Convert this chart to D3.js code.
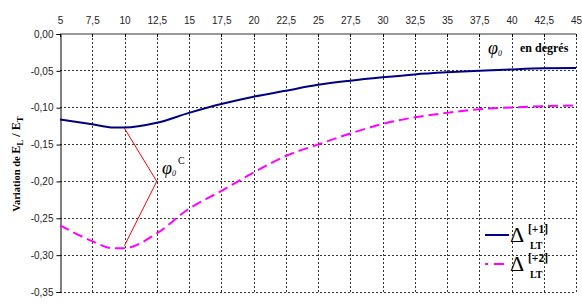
<!DOCTYPE html>
<html><head><meta charset="utf-8">
<script src="https://cdn.jsdelivr.net/npm/d3@7"></script>
<style>
html,body{margin:0;padding:0;background:#fff;}
svg{display:block;}
</style></head>
<body>
<script>
const angles = [5, 7.5, 9, 10, 12.5, 15, 17.5, 20, 22.5, 25, 27.5, 30, 32.5, 35, 37.5, 40, 42.5, 45];
const deltaLT1 = [-0.116, -0.1225, -0.1268, -0.127, -0.1205, -0.107, -0.095, -0.085, -0.077, -0.069, -0.0634, -0.0588, -0.0548, -0.052, -0.0498, -0.048, -0.0466, -0.0462];
const deltaLT2 = [-0.2595, -0.281, -0.2905, -0.2905, -0.2705, -0.237, -0.213, -0.188, -0.1655, -0.15, -0.135, -0.122, -0.113, -0.107, -0.102, -0.0997, -0.098, -0.097];
const criticalAngle = [[10, -0.128], [12.5, -0.20], [10, -0.287]];
const xTicks = [5, 7.5, 10, 12.5, 15, 17.5, 20, 22.5, 25, 27.5, 30, 32.5, 35, 37.5, 40, 42.5, 45];
const yTicks = [0, -0.05, -0.10, -0.15, -0.20, -0.25, -0.30, -0.35];

const W = 582, H = 307;
const L = 60, R = 576, T = 34, B = 292;
const svg = d3.select("body").append("svg").attr("width", W).attr("height", H);
const x = d3.scaleLinear().domain([5, 45]).range([L, R]);
const y = d3.scaleLinear().domain([-0.35, 0]).range([B, T]);
const loc = d3.formatLocale({decimal: ",", thousands: " ", grouping: [3], currency: ["", ""], minus: "-"});
const fy = loc.format(".2f");
const fx = v => String(v).replace(".", ",");

// grid
const grid = svg.append("g");
yTicks.filter(v => v < 0).forEach(v => {
  grid.append("line").attr("x1", L).attr("x2", R).attr("y1", y(v)).attr("y2", y(v))
    .attr("stroke", "#333").attr("stroke-width", 1).attr("stroke-dasharray", "2,2").attr("shape-rendering", "crispEdges");
});
xTicks.filter(v => v > 5).forEach(v => {
  grid.append("line").attr("x1", Math.round(x(v)) + 0.5).attr("x2", Math.round(x(v)) + 0.5).attr("y1", T).attr("y2", B)
    .attr("stroke", "#333").attr("stroke-width", 1).attr("stroke-dasharray", "2,2").attr("shape-rendering", "crispEdges");
});

// top axis (at y = 0)
const xAxis = d3.axisTop(x).tickValues(xTicks).tickFormat(fx).tickSize(0).tickPadding(0);
const gx = svg.append("g").attr("transform", `translate(0,${T})`).call(xAxis);
gx.select(".domain").remove();
gx.selectAll("text").attr("y", -10).attr("font-family", "Liberation Sans, Arial, sans-serif").attr("font-size", 10).attr("fill", "#222");
svg.append("line").attr("x1", L).attr("x2", R).attr("y1", T).attr("y2", T).attr("stroke", "#999").attr("stroke-width", 2);
xTicks.forEach(v => {
  svg.append("line").attr("x1", Math.round(x(v)) + 0.5).attr("x2", Math.round(x(v)) + 0.5).attr("y1", T).attr("y2", T + 3)
    .attr("stroke", "#000").attr("stroke-width", 1);
});

// left axis
const yAxis = d3.axisLeft(y).tickValues(yTicks).tickFormat(fy).tickSize(4).tickPadding(3);
const gy = svg.append("g").attr("transform", `translate(${L + 0.5},0)`).call(yAxis);
gy.select(".domain").attr("stroke", "#000");
gy.selectAll(".tick line").attr("stroke", "#000");
gy.selectAll("text").attr("font-family", "Liberation Sans, Arial, sans-serif").attr("font-size", 10).attr("fill", "#222");

// series
const line = d3.line().x((d, i) => x(angles[i])).y(d => y(d)).curve(d3.curveMonotoneX);
svg.append("path").datum(deltaLT2).attr("d", line).attr("fill", "none")
  .attr("stroke", "#ff00ff").attr("stroke-width", 2).attr("stroke-dasharray", "10,5");
svg.append("path").datum(deltaLT1).attr("d", line).attr("fill", "none")
  .attr("stroke", "#000080").attr("stroke-width", 2);

// critical angle annotation
svg.append("path").datum(criticalAngle)
  .attr("d", d3.line().x(d => x(d[0])).y(d => y(d[1])))
  .attr("fill", "none").attr("stroke", "#ff0000").attr("stroke-width", 1);

const serif = "Liberation Serif, Times New Roman, serif";
const phiC = svg.append("text").attr("font-family", serif).attr("x", 162).attr("y", 174);
phiC.append("tspan").attr("font-style", "italic").attr("font-size", 18).text("φ");
phiC.append("tspan").attr("font-style", "italic").attr("font-size", 8).attr("dy", 2).text("0");
phiC.append("tspan").attr("font-size", 10).attr("dy", -12).attr("dx", 2).text("C");

const phiT = svg.append("text").attr("font-family", serif).attr("x", 488).attr("y", 54);
phiT.append("tspan").attr("font-style", "italic").attr("font-size", 18).text("φ");
phiT.append("tspan").attr("font-style", "italic").attr("font-size", 8).attr("dy", 2).text("0");
svg.append("text").attr("font-family", serif).attr("font-weight", "bold").attr("font-size", 12)
  .attr("x", 520).attr("y", 52).text("en degrés");

// y title
const yt = svg.append("text").attr("font-family", serif).attr("font-weight", "bold")
  .attr("text-anchor", "middle").attr("transform", "translate(20,164) rotate(-90)");
yt.append("tspan").attr("font-size", 10.5).text("Variation de ");
yt.append("tspan").attr("font-size", 12).text("E");
yt.append("tspan").attr("font-size", 9).attr("dy", 3).text("L");
yt.append("tspan").attr("font-size", 12).attr("dy", -3).text(" / E");
yt.append("tspan").attr("font-size", 9).attr("dy", 3).text("T");

// legend
const legend = [
  {name: "[+1]", color: "#000080", dash: null, y: 235},
  {name: "[+2]", color: "#ff00ff", dash: "3,6,10,6", y: 264}
];
legend.forEach(d => {
  svg.append("line").attr("x1", 485).attr("x2", 509).attr("y1", d.y).attr("y2", d.y)
    .attr("stroke", d.color).attr("stroke-width", 2).attr("stroke-dasharray", d.dash);
  svg.append("text").attr("font-family", serif).attr("font-size", 22).attr("x", 510).attr("y", d.y + 7).text("Δ");
  svg.append("text").attr("font-family", serif).attr("font-weight", "bold").attr("font-size", 11.5)
    .attr("x", 528).attr("y", d.y - 2).text(d.name);
  svg.append("text").attr("font-family", serif).attr("font-weight", "bold").attr("font-size", 10)
    .attr("x", 530).attr("y", d.y + 14).text("LT");
});
</script>
</body></html>
